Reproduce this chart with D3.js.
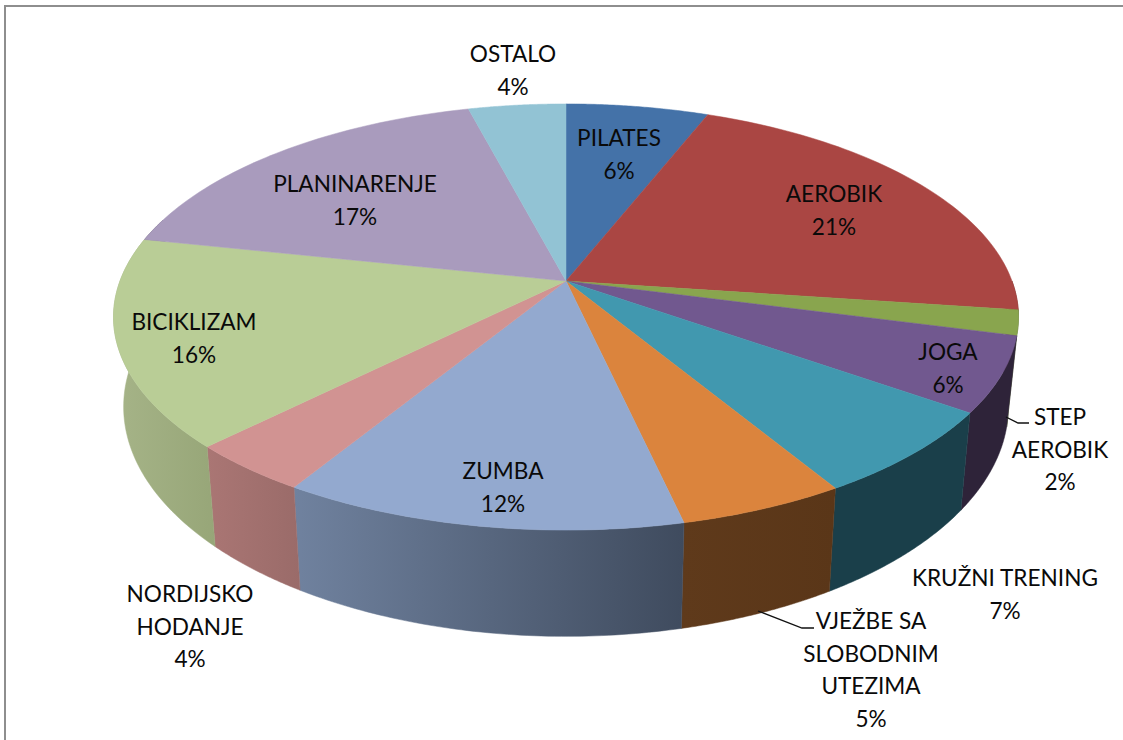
<!DOCTYPE html>
<html><head><meta charset="utf-8">
<script src="https://cdn.jsdelivr.net/npm/d3@7"></script>
<style>html,body{margin:0;padding:0;background:#fff;overflow:hidden}svg{display:block}text{font-family:Lato,"Open Sans",sans-serif;font-size:22.6px;fill:#0a0a0a}</style>
</head><body><svg id="c" width="1123" height="740"></svg>
<script>
const categories=["PILATES","AEROBIK","STEP AEROBIK","JOGA","KRUŽNI TRENING","VJEŽBE SA SLOBODNIM UTEZIMA","ZUMBA","NORDIJSKO HODANJE","BICIKLIZAM","PLANINARENJE","OSTALO"];
const values=[6.0,21.2,1.9,5.7,6.6,5.1,12.3,3.8,15.8,17.6,4.1];
const percentLabels=["6%","21%","2%","6%","7%","5%","12%","4%","16%","17%","4%"];
const topColors=["#4472a8","#aa4643","#89a54e","#71588f","#4198af","#db843d","#93a9cf","#d19392","#b9cd96","#a99bbd","#92c3d4"];
const wallLeft=["#2a4465","#662a28","#52632f","#2e2339","#1a3f4a","#5f3a1b","#70829f","#aa7674","#a6b488","#655d71","#57757f"];
const wallRight=["#2a4465","#662a28","#52632f","#2e2339","#1a3f4a","#5a3618","#3f4b5e","#9a6b69","#97a678","#655d71","#57757f"];

// label layout: lines, centre x, first baseline y
const labelLayout=[
 {lines:["PILATES"],x:619,y:146},
 {lines:["AEROBIK"],x:834,y:202},
 {lines:["STEP","AEROBIK"],x:1060,y:425},
 {lines:["JOGA"],x:948,y:360},
 {lines:["KRUŽNI TRENING"],x:1005,y:586},
 {lines:["VJEŽBE SA","SLOBODNIM","UTEZIMA"],x:871,y:629},
 {lines:["ZUMBA"],x:503,y:479},
 {lines:["NORDIJSKO","HODANJE"],x:190,y:602},
 {lines:["BICIKLIZAM"],x:194,y:330},
 {lines:["PLANINARENJE"],x:355,y:192},
 {lines:["OSTALO"],x:513,y:62}
];
const lineH=32.5;

const svg=d3.select("#c");
// perspective disc projection
const top_={cx:566,cy:281,a:446,b:207,k:0.169};
const bot_={cx:566,cy:368,a:436,b:223,k:0.169};
function proj(p,t){const x=Math.sin(t),f=-Math.cos(t),w=1-p.k*f;return [p.cx+p.a*x/w,p.cy+p.b*f/w];}
const arcs=d3.pie().sort(null).value(d=>d)(values);
const sampleAngles=(a0,a1)=>d3.range(0,61).map(i=>a0+(a1-a0)*i/60);
const lineGen=d3.line();

const defs=svg.append("defs");
svg.append("path").attr("d","M5,740V6H1123").attr("fill","none").attr("stroke","#8e8e8e").attr("stroke-width",2);

// walls (only the front half is ever visible)
const frontMin=Math.PI*0.5,frontMax=Math.PI*1.6;
const walls=svg.append("g");
arcs.forEach((d,i)=>{
  const a0=Math.max(d.startAngle,frontMin),a1=Math.min(d.endAngle,frontMax);
  if(a1<=a0)return;
  const ts=sampleAngles(a0,a1);
  const pts=ts.map(t=>proj(top_,t)).concat(ts.slice().reverse().map(t=>proj(bot_,t)));
  const ex=d3.extent(pts,p=>p[0]);
  const id="w"+i;
  const g=defs.append("linearGradient").attr("id",id).attr("gradientUnits","userSpaceOnUse")
    .attr("x1",ex[0]).attr("x2",ex[1]).attr("y1",0).attr("y2",0);
  g.append("stop").attr("offset",0).attr("stop-color",wallLeft[i]);
  g.append("stop").attr("offset",1).attr("stop-color",wallRight[i]);
  walls.append("path").attr("d",lineGen(pts)+"Z").attr("fill",`url(#${id})`).attr("stroke",`url(#${id})`).attr("stroke-width",.5);
});
// top surface
const tops=svg.append("g");
arcs.forEach((d,i)=>{
  const pts=[[top_.cx,top_.cy]].concat(sampleAngles(d.startAngle,d.endAngle).map(t=>proj(top_,t)));
  tops.append("path").attr("d",lineGen(pts)+"Z").attr("fill",topColors[i]).attr("stroke",topColors[i]).attr("stroke-width",.5);
});
// leader lines
const leaders=[[[1006,417],[1018,423],[1029,423]],[[758,611],[802,628],[814,628]]];
svg.append("g").selectAll("path").data(leaders).join("path").attr("d",d=>lineGen(d)).attr("fill","none").attr("stroke","#111").attr("stroke-width",1.3);
// labels
const lab=svg.append("g").attr("text-anchor","middle");
labelLayout.forEach((l,i)=>{
  l.lines.concat([percentLabels[i]]).forEach((s,j)=>{
    lab.append("text").attr("x",l.x).attr("y",l.y+j*lineH).text(s);
  });
});
</script></body></html>
